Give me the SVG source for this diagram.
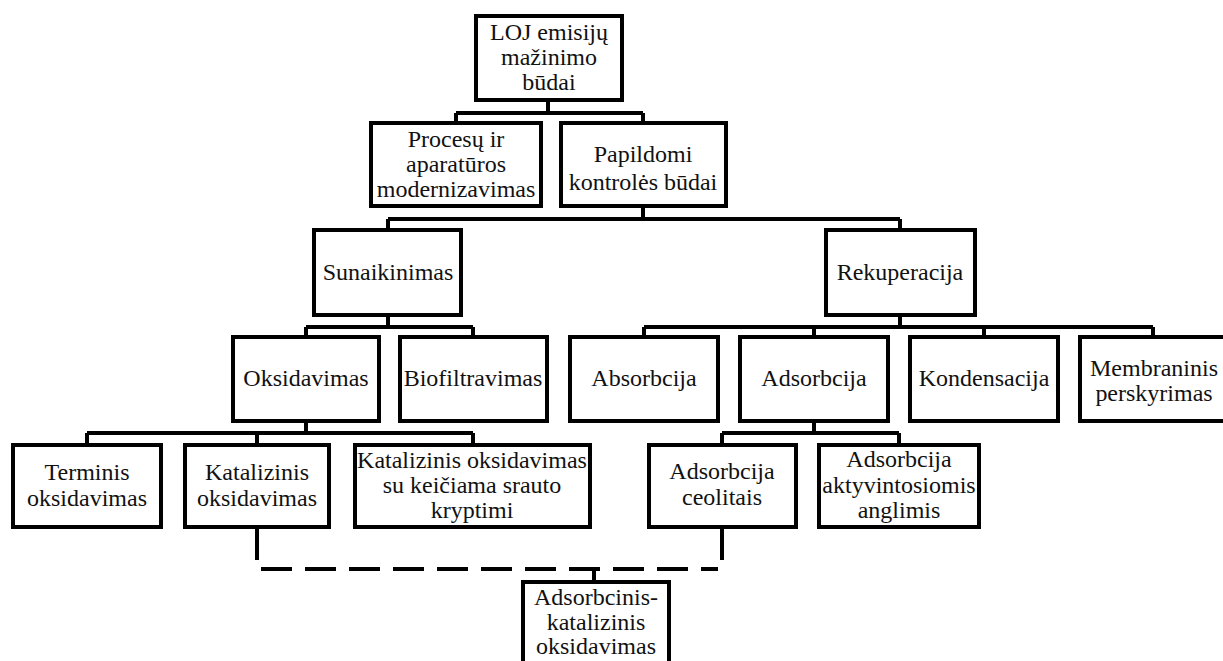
<svg xmlns="http://www.w3.org/2000/svg" width="1223" height="661" viewBox="0 0 1223 661">
<style>
.box{fill:#fff;stroke:#000;stroke-width:4}
text{font-family:"Liberation Serif","Times New Roman",serif;font-size:22.5px;fill:#111;text-anchor:middle}
.c{fill:none;stroke:#000;stroke-width:4}
.d{fill:none;stroke:#000;stroke-width:4;stroke-dasharray:31 13}
</style>
<rect width="1223" height="661" fill="#fff"/>
<g id="connectors">
<path class="c" d="M548 100V113M456 113H643M456 113V123M643 113V123"/>
<path class="c" d="M643 206V219M388 219H900M388 219V230M900 219V230"/>
<path class="c" d="M388 315V327M306 327H473M306 327V337M473 327V337"/>
<path class="c" d="M900 315V327M644 327H1153M644 327V337M814 327V337M984 327V337M1153 327V337"/>
<path class="c" d="M306 421V433M87 433H473M87 433V445M257 433V445M473 433V445"/>
<path class="c" d="M814 421V433M722 433H899M722 433V445M899 433V445"/>
<path class="c" d="M257 527V560M722 527V560M594 569V582"/>
<path class="d" d="M261 569H718"/>
</g>
<g id="root"><rect class="box" x="476" y="16" width="146" height="84"/><g transform="translate(549 0) scale(1.067 1)"><text y="40">LOJ emisijų</text><text y="65">mažinimo</text><text y="90">būdai</text></g></g>
<g id="procesu"><rect class="box" x="371" y="123" width="170" height="83"/><g transform="translate(456 0) scale(1.067 1)"><text y="147">Procesų ir</text><text y="172">aparatūros</text><text y="197">modernizavimas</text></g></g>
<g id="papildomi"><rect class="box" x="561" y="123" width="165" height="83"/><g transform="translate(643 0) scale(1.067 1)"><text y="162">Papildomi</text><text y="190">kontrolės  būdai</text></g></g>
<g id="sunaikinimas"><rect class="box" x="314" y="230" width="147" height="85"/><g transform="translate(388 0) scale(1.067 1)"><text y="280">Sunaikinimas</text></g></g>
<g id="rekuperacija"><rect class="box" x="826" y="230" width="149" height="85"/><g transform="translate(900 0) scale(1.067 1)"><text y="280">Rekuperacija</text></g></g>
<g id="oksidavimas"><rect class="box" x="233" y="337" width="146" height="84"/><g transform="translate(306 0) scale(1.067 1)"><text y="386">Oksidavimas</text></g></g>
<g id="biofiltravimas"><rect class="box" x="400" y="337" width="147" height="84"/><g transform="translate(473 0) scale(1.067 1)"><text y="386">Biofiltravimas</text></g></g>
<g id="absorbcija"><rect class="box" x="570" y="337" width="148" height="84"/><g transform="translate(644 0) scale(1.067 1)"><text y="386">Absorbcija</text></g></g>
<g id="adsorbcija"><rect class="box" x="740" y="337" width="148" height="84"/><g transform="translate(814 0) scale(1.067 1)"><text y="386">Adsorbcija</text></g></g>
<g id="kondensacija"><rect class="box" x="910" y="337" width="148" height="84"/><g transform="translate(984 0) scale(1.067 1)"><text y="386">Kondensacija</text></g></g>
<g id="membraninis"><rect class="box" x="1080" y="337" width="150" height="84"/><g transform="translate(1154 0) scale(1.067 1)"><text y="376">Membraninis</text><text y="401">perskyrimas</text></g></g>
<g id="terminis"><rect class="box" x="13" y="445" width="148" height="82"/><g transform="translate(87 0) scale(1.067 1)"><text y="480">Terminis</text><text y="506">oksidavimas</text></g></g>
<g id="katalizinis"><rect class="box" x="185" y="445" width="144" height="82"/><g transform="translate(257 0) scale(1.067 1)"><text y="480">Katalizinis</text><text y="506">oksidavimas</text></g></g>
<g id="katalizinis-srauto"><rect class="box" x="355" y="445" width="235" height="82"/><g transform="translate(472 0) scale(1.067 1)"><text y="468">Katalizinis  oksidavimas</text><text y="493">su keičiama  srauto</text><text y="518">kryptimi</text></g></g>
<g id="ceolitais"><rect class="box" x="649" y="445" width="147" height="82"/><g transform="translate(722 0) scale(1.067 1)"><text y="479">Adsorbcija</text><text y="505">ceolitais</text></g></g>
<g id="aktyvintosiomis"><rect class="box" x="819" y="445" width="160" height="82"/><g transform="translate(899 0) scale(1.067 1)"><text y="467">Adsorbcija</text><text y="493">aktyvintosiomis</text><text y="518">anglimis</text></g></g>
<g id="adsorbcinis-katalizinis"><rect class="box" x="523" y="582" width="146" height="86"/><g transform="translate(596 0) scale(1.067 1)"><text y="605">Adsorbcinis-</text><text y="630">katalizinis</text><text y="654">oksidavimas</text></g></g>
</svg>
